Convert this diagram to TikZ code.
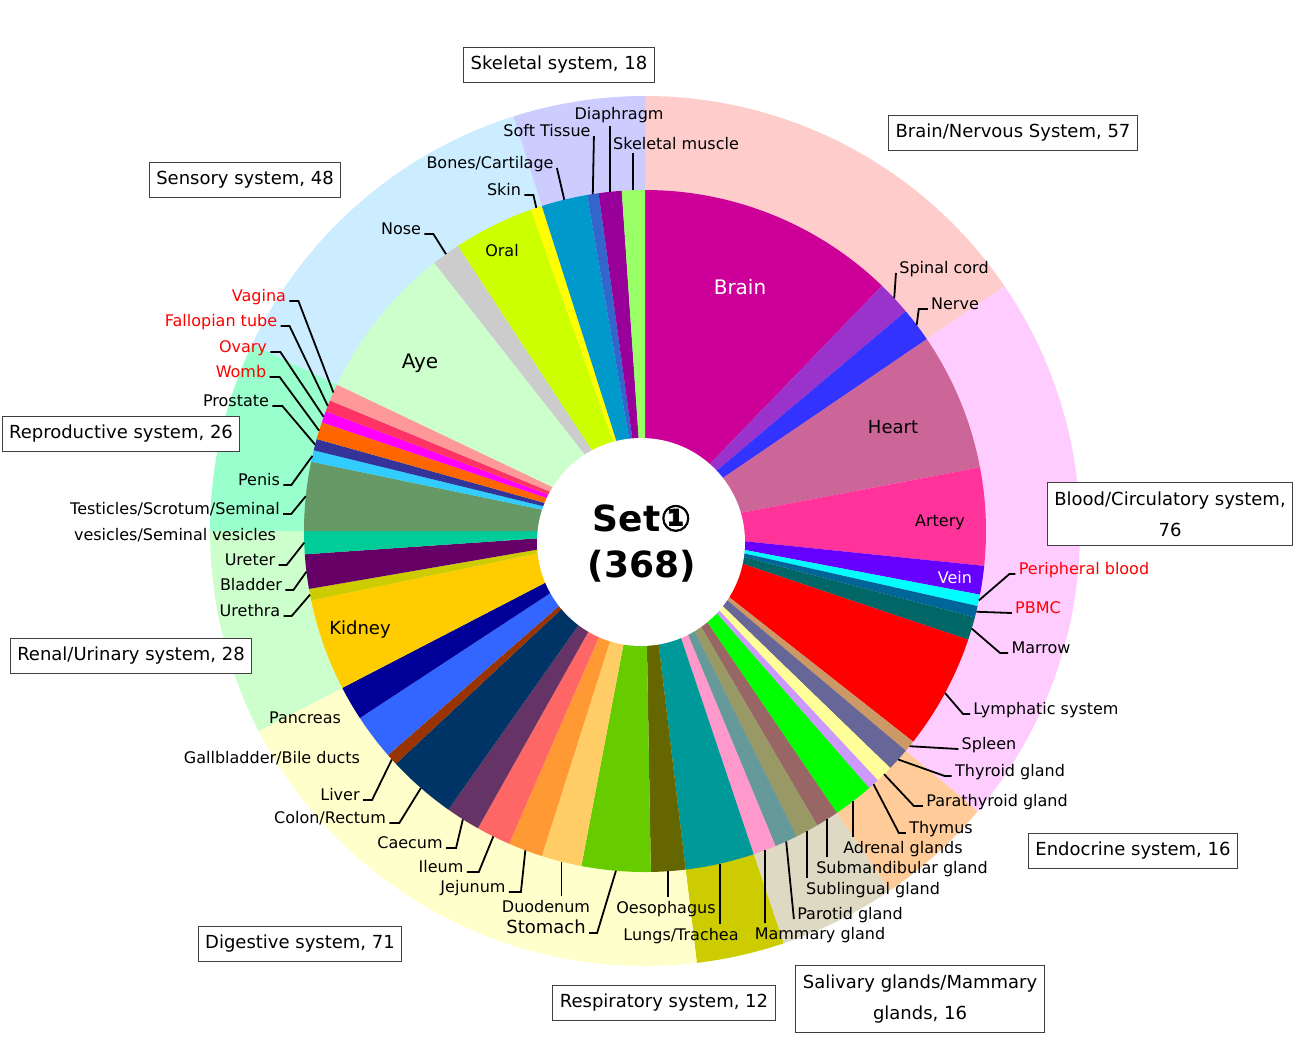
\documentclass[tikz,border=0pt]{standalone}
\usepackage{fontspec}
\setmainfont{DejaVu Sans}
\newfontfamily\circfont{DejaVu Sans}[FakeBold=2]
\usetikzlibrary{calc}

\tikzset{
  lbl/.style={font=\fontsize{8}{10}\selectfont, inner sep=1.5pt},
  inlbl/.style={font=\fontsize{9}{11}\selectfont, inner sep=1pt},
  sysbox/.style={draw=black!75, line width=0.5pt, fill=white, font=\fontsize{9}{15.5}\selectfont, inner xsep=3.5pt, inner ysep=4.5pt, align=center},
  lead/.style={black, line width=0.9pt}
}

\begin{document}
\begin{tikzpicture}[x=0.5pt, y=0.5pt]
\fill[white] (0,0) rectangle (1295,-1057);
\useasboundingbox (0,0) rectangle (1295,-1057);

\begin{scope}[shift={(645,-531)}]
\def\angA{90}
\foreach \n/\c in {57/FFCCCC, 76/FFCCFF, 16/FFCC99, 16/DDD9C3, 12/CCCC00, 71/FFFFCC, 28/CCFFCC, 26/99FFCC, 48/CCECFF, 18/CCCCFF}{
  \pgfmathsetmacro\angB{\angA-\n*0.97826087}
  \definecolor{sc}{HTML}{\c}
  \fill[sc] (0,0) -- (\angA:435) arc[start angle=\angA, end angle=\angB, radius=435] -- cycle;
  \xdef\angA{\angB}
}
\def\angA{90}
\foreach \n/\k/\c in {45/brain/CC0099, 6/spinal/9933CC, 6/nerve/3333FF,
  24/heart/CC6699, 17/artery/FF3399, 5/vein/6600FF, 2/pb/00FFFF, 2/pbmc/006699, 4/marrow/006666, 20/lymph/FF0000, 2/spleen/CC9966,
  4/thyroid/666699, 3/parathyroid/FFFF99, 2/thymus/CC99FF, 7/adrenal/00FF00,
  4/submand/996666, 4/subling/999966, 4/parotid/669999, 4/mammary/FF99CC,
  12/lungs/009999,
  6/oeso/666600, 12/stomach/66CC00, 7/duod/FFCC66, 6/jej/FF9933, 6/ileum/FF6666, 6/caecum/663366, 12/colon/003366, 2/liver/993300, 8/gall/3366FF, 6/pancreas/000099,
  16/kidney/FFCC00, 2/urethra/CCCC00, 6/bladder/660066, 4/ureter/00CC99,
  12/testes/669966, 2/penis/33CCFF, 2/prostate/333399, 3/womb/FF6600, 2/ovary/FF00FF, 2/fallop/FF3366, 3/vagina/FF9999,
  27/aye/CCFFCC, 5/nose/CCCCCC, 14/oral/CCFF00, 2/skin/FFFF00,
  8/bones/0099CC, 2/soft/3366CC, 4/diaph/990099, 4/skmus/99FF66}{
  \pgfmathsetmacro\angB{\angA-\n*0.97826087}
  \pgfmathsetmacro\angM{(\angA+\angB)/2}
  \definecolor{sc}{HTML}{\c}
  \fill[sc] (0,0) -- (\angA:341) arc[start angle=\angA, end angle=\angB, radius=341] -- cycle;
  \coordinate (p-\k) at (\angM:341);
  \xdef\angA{\angB}
}
\end{scope}
\fill[white] (641,-542) circle[radius=104];
\node[font=\fontsize{18}{23}\selectfont\bfseries, align=center] (ctr) at (642,-543) {Set{\circfont ①}\\(368)};

\node[inlbl, font=\fontsize{10}{12}\selectfont, white] (t-brain) at (740,-287) {Brain};
\node[inlbl] (t-heart) at (893,-427) {Heart};
\node[inlbl, font=\fontsize{8}{10}\selectfont] (t-artery) at (940,-522) {Artery};
\node[inlbl, font=\fontsize{8}{10}\selectfont, white] (t-vein) at (955,-578) {Vein};
\node[inlbl] (t-kidney) at (360,-630) {Kidney};
\node[inlbl, font=\fontsize{10}{12}\selectfont] (t-aye) at (420,-363) {Aye};
\node[inlbl, font=\fontsize{8}{10}\selectfont] (t-oral) at (502,-251) {Oral};

\node[lbl, anchor=base] (spinal) at (944,-273) {Spinal cord};
\draw[lead] (spinal.base west) -- (p-spinal);
\node[lbl, anchor=base] (nerve) at (955,-309) {Nerve};
\draw[lead] (nerve.base west) -- ++(-9,0) -- (p-nerve);
\node[lbl, anchor=base, red] (pb) at (1084,-574) {Peripheral blood};
\draw[lead] (pb.base west) -- ++(-6,0) -- (p-pb);
\node[lbl, anchor=base, red] (pbmc) at (1038,-613) {PBMC};
\draw[lead] (pbmc.base west) -- (p-pbmc);
\node[lbl, anchor=base] (marrow) at (1041,-653) {Marrow};
\draw[lead] (marrow.base west) -- ++(-8,0) -- (p-marrow);
\node[lbl, anchor=base] (lymph) at (1046,-714) {Lymphatic system};
\draw[lead] (lymph.base west) -- ++(-7,0) -- (p-lymph);
\node[lbl, anchor=base] (spleen) at (989,-749) {Spleen};
\draw[lead] (spleen.base west) -- (p-spleen);
\node[lbl, anchor=base] (thyroid) at (1010,-776) {Thyroid gland};
\draw[lead] (thyroid.base west) -- ++(-7,0) -- (p-thyroid);
\node[lbl, anchor=base] (para) at (997,-806) {Parathyroid gland};
\draw[lead] (para.base west) -- ++(-9,0) -- (p-parathyroid);
\node[lbl, anchor=base] (thymus) at (941,-833) {Thymus};
\draw[lead] (thymus.base west) -- ++(-7,0) -- (p-thymus);
\node[lbl, anchor=base] (adrenal) at (903,-853) {Adrenal glands};
\draw[lead] (p-adrenal |- adrenal.north) -- (p-adrenal);
\node[lbl, anchor=base] (submand) at (902,-873) {Submandibular gland};
\draw[lead] (p-submand |- submand.north) -- (p-submand);
\node[lbl, anchor=base] (subling) at (873,-894) {Sublingual gland};
\draw[lead] (p-subling |- subling.north) -- (p-subling);
\node[lbl, anchor=base] (parotid) at (850,-919) {Parotid gland};
\draw[lead] (parotid.base west) -- (p-parotid);
\node[lbl, anchor=base] (mammary) at (820,-939) {Mammary gland};
\draw[lead] (p-mammary |- mammary.north) -- (p-mammary);
\node[lbl, anchor=base] (lungs) at (681,-940) {Lungs/Trachea};
\draw[lead] (p-lungs |- lungs.north) -- (p-lungs);
\node[lbl, anchor=base] (oeso) at (666,-913) {Oesophagus};
\draw[lead] (p-oeso |- oeso.north) -- (p-oeso);
\node[lbl, font=\fontsize{9}{11}\selectfont, anchor=base] (stomach) at (546,-933) {Stomach};
\draw[lead] (stomach.base east) -- ++(8,0) -- (p-stomach);
\node[lbl, anchor=base] (duod) at (546,-912) {Duodenum};
\draw[lead] (p-duod |- duod.north) -- (p-duod);
\node[lbl, anchor=base] (jej) at (473,-892) {Jejunum};
\draw[lead] (jej.base east) -- ++(12,0) -- (p-jej);
\node[lbl, anchor=base] (ileum) at (441,-872) {Ileum};
\draw[lead] (ileum.base east) -- ++(12,0) -- (p-ileum);
\node[lbl, anchor=base] (caecum) at (410,-848) {Caecum};
\draw[lead] (caecum.base east) -- ++(10,0) -- (p-caecum);
\node[lbl, anchor=base] (colon) at (330,-823) {Colon/Rectum};
\draw[lead] (colon.base east) -- ++(10,0) -- (p-colon);
\node[lbl, anchor=base] (liver) at (340,-800) {Liver};
\draw[lead] (liver.base east) -- ++(9,0) -- (p-liver);
\node[lbl, anchor=base] (gall) at (272,-763) {Gallbladder/Bile ducts};
\node[lbl, anchor=base] (pancreas) at (305,-723) {Pancreas};
\node[lbl, anchor=base] (urethra) at (250,-616) {Urethra};
\draw[lead] (urethra.base east) -- ++(8,0) -- (p-urethra);
\node[lbl, anchor=base] (bladder) at (251,-590) {Bladder};
\draw[lead] (bladder.base east) -- ++(8,0) -- (p-bladder);
\node[lbl, anchor=base] (ureter) at (250,-565) {Ureter};
\draw[lead] (ureter.base east) -- ++(8,0) -- (p-ureter);
\node[lbl, anchor=base] (testes) at (175,-514) {Testicles/Scrotum/Seminal};
\node[lbl, anchor=base] (testes2) at (175,-540) {vesicles/Seminal vesicles};
\draw[lead] (testes.base east) -- ++(8,0) -- (p-testes);
\node[lbl, anchor=base] (penis) at (259,-485) {Penis};
\draw[lead] (penis.base east) -- ++(8,0) -- (p-penis);
\node[lbl, anchor=base] (prostate) at (236,-406) {Prostate};
\draw[lead] (prostate.base east) -- ++(10,0) -- (p-prostate);
\node[lbl, anchor=base, red] (womb) at (241,-377) {Womb};
\draw[lead] (womb.base east) -- ++(10,0) -- (p-womb);
\node[lbl, anchor=base, red] (ovary) at (243,-352) {Ovary};
\draw[lead] (ovary.base east) -- ++(10,0) -- (p-ovary);
\node[lbl, anchor=base, red] (fallop) at (221,-326) {Fallopian tube};
\draw[lead] (fallop.base east) -- ++(9,0) -- (p-fallop);
\node[lbl, anchor=base, red] (vagina) at (259,-301) {Vagina};
\draw[lead] (vagina.base east) -- ++(9,0) -- (p-vagina);
\node[lbl, anchor=base] (nose) at (401,-234) {Nose};
\draw[lead] (nose.base east) -- ++(9,0) -- (p-nose);
\node[lbl, anchor=base] (skin) at (504,-195) {Skin};
\draw[lead] (skin.base east) -- ++(9,0) -- (p-skin);
\node[lbl, anchor=base] (bones) at (490,-168) {Bones/Cartilage};
\draw[lead] (bones.base east) -- (p-bones);
\node[lbl, anchor=base] (soft) at (547,-136) {Soft Tissue};
\draw[lead] (soft.base east) -- (p-soft);
\node[lbl, anchor=base] (diaph) at (619,-119) {Diaphragm};
\draw[lead] (p-diaph |- diaph.south) -- (p-diaph);
\node[lbl, anchor=base] (skmus) at (676,-149) {Skeletal muscle};
\draw[lead] (p-skmus |- skmus.south) -- (p-skmus);

\node[sysbox] (skel) at (559,-65) {Skeletal system, 18};
\node[sysbox] (brainsys) at (1013,-133) {Brain/Nervous System, 57};
\node[sysbox] (sens) at (245,-180) {Sensory system, 48};
\node[sysbox] (repro) at (121,-434) {Reproductive system, 26};
\node[sysbox] (blood) at (1170,-514) {Blood/Circulatory system,\\76};
\node[sysbox] (renal) at (131,-656) {Renal/Urinary system, 28};
\node[sysbox] (endo) at (1133,-851) {Endocrine system, 16};
\node[sysbox] (dig) at (300,-944) {Digestive system, 71};
\node[sysbox] (resp) at (664,-1003) {Respiratory system, 12};
\node[sysbox] (saliv) at (920,-999) {Salivary glands/Mammary\\glands, 16};
\end{tikzpicture}
\end{document}
